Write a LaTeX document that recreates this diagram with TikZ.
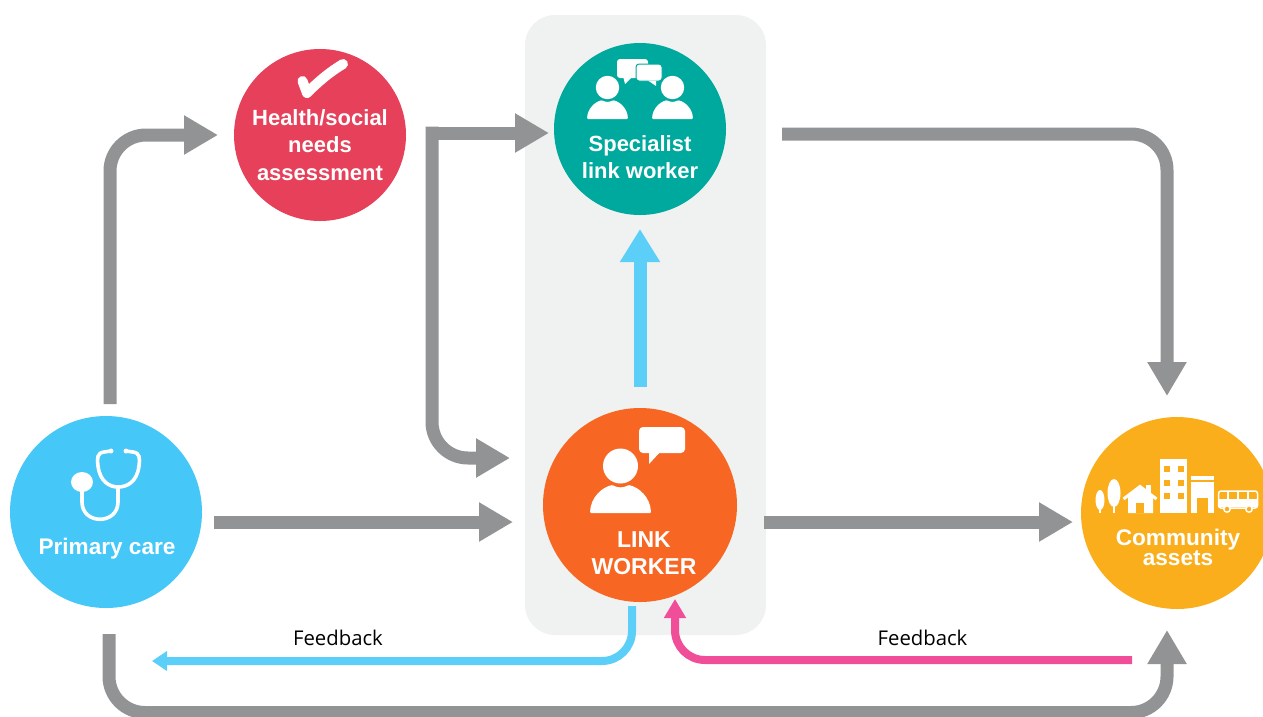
\documentclass[tikz,border=0pt]{standalone}
\usepackage{fontspec}
\setmainfont{Liberation Sans}
\newfontfamily\labelfont{Open Sans}
\usetikzlibrary{arrows.meta}
\definecolor{ggrey}{HTML}{929394}
\definecolor{lblue}{HTML}{5BCFF7}
\definecolor{lpink}{HTML}{F04E98}
\definecolor{cprimary}{HTML}{45C7F7}
\definecolor{chealth}{HTML}{E6405A}
\definecolor{cspecial}{HTML}{00A99D}
\definecolor{clink}{HTML}{F76723}
\definecolor{cassets}{HTML}{FBAE1B}
\definecolor{cpanel}{HTML}{F0F2F1}
\tikzset{
  disc/.style={circle,inner sep=0pt,minimum size=#1},
  ctext/.style={white,align=center,font=\bfseries\fontsize{22}{27.5}\selectfont,inner sep=0pt},
  fb/.style={black,font=\labelfont\fontsize{20.3}{22}\selectfont,inner sep=0pt},
  bigarr/.style={line width=13pt,rounded corners=36pt,-{Triangle[length=34pt,width=37pt]}},
  thinarr/.style={line width=8pt,rounded corners=30pt},
  pics/personicon/.style={code={
    \fill[white] (0,-47) circle (17.5);
    \fill[white,rounded corners=1pt] (-30.5,0) .. controls (-30,-16) and (-18,-26) .. (-8,-28)
       .. controls (-3,-25) and (3,-25) .. (8,-28) .. controls (18,-26) and (30,-16) .. (30.5,0) -- cycle;
  }}
}
\begin{document}
\begin{tikzpicture}[x=1pt,y=-1pt]
   \useasboundingbox (0,0) rectangle (1263,716);
   \fill[cpanel,rounded corners=30pt] (525,15) rectangle (766,635);

   \node[disc=192pt,fill=cprimary] (primary) at ( 106,512) {};
   \node[disc=172pt,fill=chealth]  (health)  at ( 320,135) {};
   \node[disc=172pt,fill=cspecial] (special) at ( 640,129) {};
   \node[disc=194pt,fill=clink]    (link)    at ( 640,505) {};
   \node[disc=192pt,fill=cassets]  (assets)  at (1177,513) {};

   \node[ctext] (healthtxt)  at ( 320,145) {Health/social\\needs\\assessment};
   \node[ctext] (specialtxt) at ( 640,157) {Specialist\\link worker};
   \node[ctext,font=\bfseries\fontsize{22.6}{27.5}\selectfont] (primarytxt) at ( 107,549) {Primary care};
   \node[ctext,font=\bfseries\fontsize{23}{27}\selectfont] (linktxt) at ( 644,553) {LINK\\WORKER};
   \node[ctext,font=\bfseries\fontsize{22.6}{20}\selectfont] (assetstxt) at (1178,547) {Community\\assets};
   \node[fb] (fbleft)  at ( 338,638) {Feedback};
   \node[fb] (fbright) at ( 922.5,638) {Feedback};

   % grey routes
   \coordinate (a1) at ( 110,404);
   \coordinate (a2) at ( 218,135);
   \coordinate (b1) at (425.5,133);
   \coordinate (b2) at ( 549,133);
   \coordinate (c1) at ( 432,126.5);
   \coordinate (c2) at ( 510,458);
   \coordinate (d1) at ( 214,522);
   \coordinate (d2) at ( 513,522);
   \coordinate (e1) at ( 764,522);
   \coordinate (e2) at (1073,522);
   \coordinate (f1) at ( 782,134);
   \coordinate (f2) at (1167,396);
   \coordinate (g1) at ( 109,634);
   \coordinate (g2) at (1167,630);
   \draw[bigarr,ggrey] (a1) |- (a2);
   \draw[bigarr,ggrey] (b1) -- (b2);
   \draw[bigarr,ggrey] (c1) |- (c2);
   \draw[bigarr,ggrey] (d1) -- (d2);
   \draw[bigarr,ggrey] (e1) -- (e2);
   \draw[bigarr,ggrey] (f1) -| (f2);
   \draw[bigarr,ggrey] (g1) -- (109,712.5) -- (1167,712.5) -- (g2);

   % link worker to specialist
   \coordinate (h1) at ( 640,387);
   \coordinate (h2) at ( 640,229);
   \draw[line width=13pt,lblue,-{Triangle[length=33pt,width=38pt]}] (h1) -- (h2);

   % feedback
   \coordinate (i1) at ( 632,606);
   \coordinate (i2) at ( 152,661);
   \coordinate (j1) at (1132,660);
   \coordinate (j2) at ( 675,599);
   \draw[thinarr,lblue,-{Triangle[length=15pt,width=19pt]}] (i1) |- (i2);
   \draw[thinarr,lpink,-{Triangle[length=19pt,width=21pt]}] (j1) -| (j2);

   % tick
   \draw[white,line width=10pt,line cap=round,line join=round] (302.5,81) -- (307,93) .. controls (320,80) and (330,72) .. (343,64);

   % stethoscope
   \fill[white] (82,482) ellipse (11 and 10);
   \draw[white,line width=3.6pt,line cap=round] (82,490) -- (82,502) .. controls (82,525) and (118,525) .. (118,502) -- (118,487);
   \draw[white,line width=3.6pt,line cap=round] (111,451) -- (104,452) .. controls (97,453) and (97,458) .. (98,466)
       .. controls (100,482) and (110,487) .. (118,487) .. controls (127,487) and (137,482) .. (139,466)
       .. controls (140,458) and (140,453) .. (133,452) -- (126,451);
   \fill[white] (111,451) circle (2.5) (126,451) circle (2.5);

   % people and bubbles
   \pic at (620.5,513) {personicon};
   \fill[white,rounded corners=4pt] (639,427) rectangle (685,453);
   \fill[white,line join=round] (649,450) -- (649,464) -- (662,450) -- cycle;

   \pic[scale=.67] at (607.5,119) {personicon};
   \pic[scale=.67] at (672.5,119) {personicon};
   \fill[white,rounded corners=3pt] (617,59) rectangle (648,78);
   \fill[white] (623,76) -- (625,84) -- (633,76) -- cycle;
   \filldraw[white,draw=cspecial,line width=1pt,rounded corners=3pt] (636,64) rectangle (662,81);
   \fill[white] (648,80.5) -- (656,86) -- (656,80.5) -- cycle;

   % trees, house, buildings, bus
   \fill[white] (1100,500) ellipse (4.5 and 10);
   \fill[white] (1098.9,505) rectangle (1101.1,513);
   \fill[white] (1114,493) ellipse (6.5 and 14);
   \fill[white] (1112.8,503) rectangle (1115.2,513);
   \fill[white] (1128,497) -- (1140,487) -- (1153,497) -- (1153,513) -- (1128,513) -- cycle;
   \draw[white,line width=3pt] (1123.5,499) -- (1140,486.5) -- (1156.5,499);
   \fill[white] (1146,485) rectangle (1151,494);
   \fill[cassets] (1136,503) rectangle (1144,513);
   \fill[white] (1160,459) rectangle (1187,513);
   \foreach \wy in {466,480,493} {
     \fill[cassets] (1164,\wy) rectangle (1170,\wy+6);
     \fill[cassets] (1178,\wy) rectangle (1184,\wy+6);
   }
   \fill[white] (1191,476) rectangle (1214,479.5);
   \fill[white] (1191,482) rectangle (1214,513);
   \fill[cassets] (1197,498) rectangle (1208,513);
   \draw[white,line width=1.5pt,rounded corners=2.5pt] (1218.5,491) rectangle (1257.5,508);
   \draw[white,line width=1.2pt] (1218.5,500) -- (1257.5,500);
   \foreach \wx in {1228,1238,1248} \draw[white,line width=1.2pt] (\wx,491) -- (\wx,500);
   \fill[white] (1218.5,500) rectangle (1257.5,507);
   \filldraw[fill=cassets,draw=white,line width=1.5pt] (1227,509) circle (3.2);
   \filldraw[fill=cassets,draw=white,line width=1.5pt] (1249,509) circle (3.2);
\end{tikzpicture}
\end{document}
